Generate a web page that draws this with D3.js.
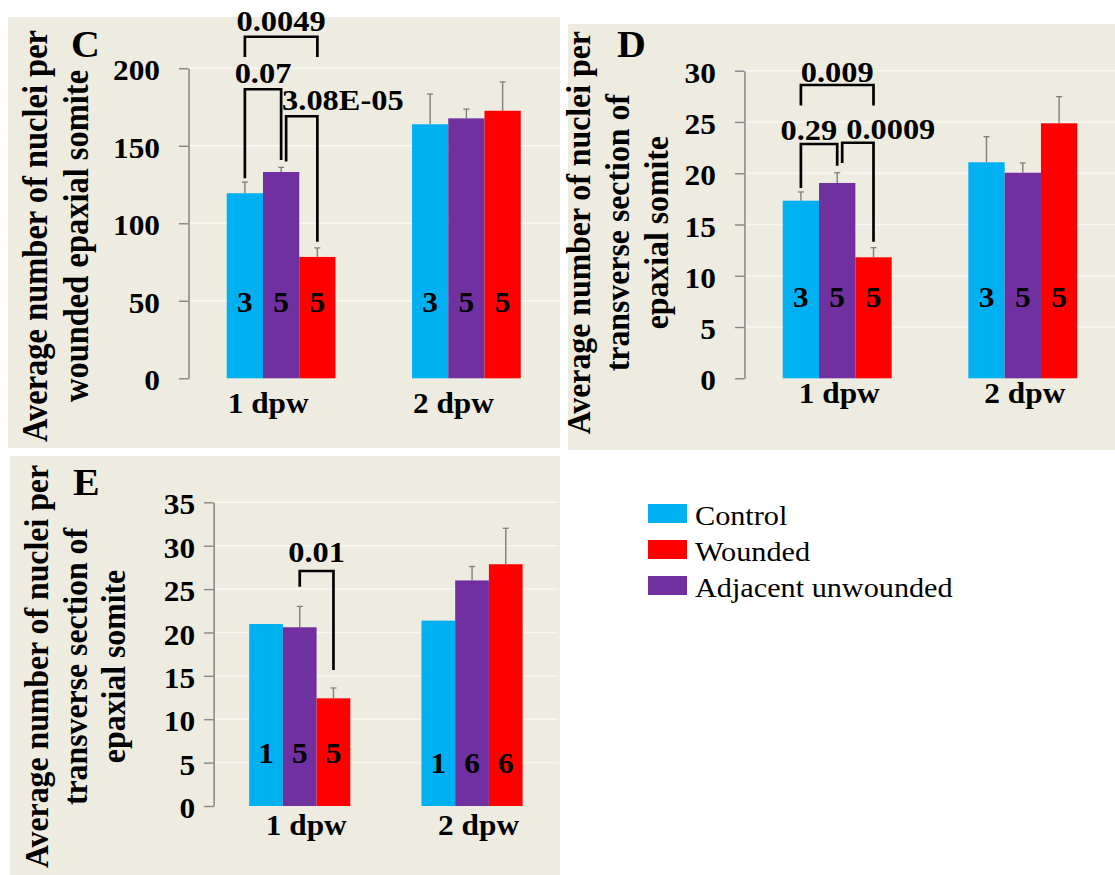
<!DOCTYPE html>
<html>
<head>
<meta charset="utf-8">
<script src="https://cdn.jsdelivr.net/npm/d3@7"></script>
<style>
  html, body { margin: 0; padding: 0; background: #ffffff; }
  svg { display: block; }
</style>
</head>
<body>
<svg id="fig" width="1115" height="875"></svg>
<script>
// ---------- shared categories / series ----------
const categories = ["1 dpw", "2 dpw"];
const seriesNames = ["Control", "Adjacent unwounded", "Wounded"];
const seriesColors = ["#00b0f0", "#7030a0", "#ff0000"];
const legendNames = ["Control", "Wounded", "Adjacent unwounded"];

// ---------- panel C: nuclei per wounded epaxial somite ----------
const cControl = [119.4, 163.9];
const cControlErr = [7.2, 19.5];
const cAdjacent = [133.1, 167.7];
const cAdjacentErr = [3.0, 6.0];
const cWounded = [78.3, 172.6];
const cWoundedErr = [5.8, 18.6];
const cCounts = [[3, 5, 5], [3, 5, 5]];
const cCountAt = [43, 43];
const cTicks = [0, 50, 100, 150, 200];
const cPValues = ["0.0049", "0.07", "3.08E-05"];
const cPairs = [[0, 2], [0, 1], [1, 2]];
const cBracketTop = [220.4, 186.5, 169.0];
const cBracketLegs = [[207.3, 207.3], [129.0, 140.8], [139.8, 88.1]];
const cPAlign = ["middle", "middle", "start"];

// ---------- panel D: nuclei per transverse section ----------
const dControl = [17.32, 21.07];
const dControlErr = [0.85, 2.5];
const dAdjacent = [19.05, 20.05];
const dAdjacentErr = [1.0, 0.95];
const dWounded = [11.8, 24.87];
const dWoundedErr = [0.94, 2.6];
const dCounts = [[3, 5, 5], [3, 5, 5]];
const dCountAt = [7, 7];
const dTicks = [0, 5, 10, 15, 20, 25, 30];
const dPValues = ["0.009", "0.29", "0.0009"];
const dPairs = [[0, 2], [0, 1], [1, 2]];
const dBracketTop = [28.6, 22.86, 22.98];
const dBracketLegs = [[26.6, 26.6], [18.56, 20.74], [21.0, 13.32]];
const dPAlign = ["middle", "end", "start"];

// ---------- panel E: nuclei per transverse section ----------
const eControl = [20.97, 21.36];
const eControlErr = [null, null];
const eAdjacent = [20.6, 26.0];
const eAdjacentErr = [2.4, 1.6];
const eWounded = [12.41, 27.86];
const eWoundedErr = [1.19, 4.15];
const eCounts = [[1, 5, 5], [1, 6, 6]];
const eCountAt = [5.0, 3.8];
const eTicks = [0, 5, 10, 15, 20, 25, 30, 35];
const ePValues = ["0.01"];
const ePairs = [[1, 2]];
const eBracketTop = [27.08];
const eBracketLegs = [[25.27, 15.67]];
const ePAlign = ["middle"];

// ---------- styling ----------
const FONT = '"Liberation Serif", "Times New Roman", Times, serif';
const BG = "#eeece1";
const GRID = "#f8f7f2";
const AXIS = "#868686";
const ERR = "#7f7f7f";
const SX = 1.08;            // horizontal stretch of the whole figure
const X = v => v / SX;      // screen x -> local x

const svg = d3.select("#fig");

function buildRows(ctrl, ctrlErr, adj, adjErr, wnd, wndErr, counts) {
  return categories.map((c, i) => ({
    cat: c,
    vals: [ctrl[i], adj[i], wnd[i]],
    errs: [ctrlErr[i], adjErr[i], wndErr[i]],
    counts: counts[i]
  }));
}

function buildBrackets(pairs, tops, legs, labels, align) {
  return pairs.map((p, k) => ({
    from: p[0], to: p[1], top: tops[k],
    leftLeg: legs[k][0], rightLeg: legs[k][1],
    label: labels[k], align: align[k]
  }));
}

const panels = [
  {
    letter: "C", bg: [8, 17, 560, 448],
    axisX: 188.5, plotRight: 559, gridRight: 560,
    yTop: 68.3, yBottom: 378.3, max: 200, ticks: cTicks, tickPad: 19,
    rows: buildRows(cControl, cControlErr, cAdjacent, cAdjacentErr, cWounded, cWoundedErr, cCounts),
    countAt: cCountAt,
    brackets: buildBrackets(cPairs, cBracketTop, cBracketLegs, cPValues, cPAlign),
    pGap: 6, pStartDx: -4,
    catY: 413.3, catDx: -13,
    letterX: 71, letterY: 56.7,
    title: ["Average number of nuclei per", "wounded epaxial somite"],
    titleX: [46.5, 87.7], titleCY: 236, titleSize: 32.5
  },
  {
    letter: "D", bg: [568, 24, 1115, 450],
    axisX: 744.4, plotRight: 1115.6, gridRight: 1115,
    yTop: 70.7, yBottom: 378.3, max: 30, ticks: dTicks, tickPad: 19,
    rows: buildRows(dControl, dControlErr, dAdjacent, dAdjacentErr, dWounded, dWoundedErr, dCounts),
    countAt: dCountAt,
    brackets: buildBrackets(dPairs, dBracketTop, dBracketLegs, dPValues, dPAlign),
    pGap: 3.5, pStartDx: 4,
    catY: 403.3, catDx: 2,
    letterX: 617, letterY: 56.7,
    title: ["Average number of nuclei per", "transverse section of", "epaxial somite"],
    titleX: [590, 629, 668], titleCY: 232.7, titleSize: 31.8
  },
  {
    letter: "E", bg: [10, 456, 560, 875],
    axisX: 213.6, plotRight: 558.2, gridRight: 558,
    yTop: 502.3, yBottom: 806, max: 35, ticks: eTicks, tickPad: 9,
    rows: buildRows(eControl, eControlErr, eAdjacent, eAdjacentErr, eWounded, eWoundedErr, eCounts),
    countAt: eCountAt,
    brackets: buildBrackets(ePairs, eBracketTop, eBracketLegs, ePValues, ePAlign),
    pGap: 9, pStartDx: 0,
    catY: 835, catDx: 6.5,
    letterX: 73, letterY: 495,
    title: ["Average number of nuclei per", "transverse section of", "epaxial somite"],
    titleX: [48.3, 86.5, 125], titleCY: 666.5, titleSize: 31.8
  }
];

function drawPanel(p) {
  const g = svg.append("g").attr("transform", `scale(${SX},1)`);

  // panel background
  g.append("rect")
    .attr("x", X(p.bg[0])).attr("y", p.bg[1])
    .attr("width", X(p.bg[2] - p.bg[0])).attr("height", p.bg[3] - p.bg[1])
    .attr("fill", BG);

  const y = d3.scaleLinear().domain([0, p.max]).range([p.yBottom, p.yTop]);
  const x0 = d3.scaleBand().domain(categories)
    .range([X(p.axisX), X(p.plotRight)]).paddingInner(0).paddingOuter(0);
  const bw = x0.bandwidth();
  const groupW = bw * 0.587;
  const x1 = d3.scaleBand().domain(seriesNames)
    .range([(bw - groupW) / 2, (bw + groupW) / 2]);

  // horizontal gridlines
  g.append("g").selectAll("line")
    .data(p.ticks.filter(t => t > 0)).join("line")
    .attr("x1", X(p.axisX)).attr("x2", X(p.gridRight))
    .attr("y1", d => y(d)).attr("y2", d => y(d))
    .attr("stroke", GRID).attr("stroke-width", 1.4);

  // y axis
  const ax = g.append("g")
    .attr("transform", `translate(${X(p.axisX)},0)`)
    .call(d3.axisLeft(y).tickValues(p.ticks).tickSize(X(9.5)).tickSizeOuter(0)
      .tickPadding(X(p.tickPad)).tickFormat(d3.format("d")))
    .attr("font-family", FONT).attr("font-size", 29);
  ax.select(".domain").attr("stroke", AXIS).attr("stroke-width", 1.4);
  ax.selectAll(".tick line").attr("stroke", AXIS).attr("stroke-width", 1.4);
  ax.selectAll(".tick text").attr("fill", "#000").attr("font-weight", "bold").attr("dy", "0.4em");

  const cx = (i, j) => x0(categories[i]) + x1(seriesNames[j]) + x1.bandwidth() / 2;

  // bars
  const grp = g.append("g").selectAll("g").data(p.rows).join("g")
    .attr("transform", d => `translate(${x0(d.cat)},0)`);
  grp.selectAll("rect")
    .data(d => d.vals.map((v, j) => ({ v, j })))
    .join("rect")
    .attr("x", d => x1(seriesNames[d.j]))
    .attr("y", d => y(d.v))
    .attr("width", x1.bandwidth())
    .attr("height", d => y(0) - y(d.v))
    .attr("fill", d => seriesColors[d.j]);

  // error bars (upper only)
  p.rows.forEach((row, i) => {
    row.vals.forEach((v, j) => {
      const e = row.errs[j];
      if (e == null) return;
      const c = cx(i, j);
      g.append("line").attr("x1", c).attr("x2", c)
        .attr("y1", y(v)).attr("y2", y(v + e))
        .attr("stroke", ERR).attr("stroke-width", 1.3);
      g.append("line").attr("x1", c - X(3)).attr("x2", c + X(3))
        .attr("y1", y(v + e)).attr("y2", y(v + e))
        .attr("stroke", ERR).attr("stroke-width", 1.3);
    });
    // sample sizes
    row.counts.forEach((n, j) => {
      g.append("text").attr("x", cx(i, j)).attr("y", y(p.countAt[i]))
        .attr("text-anchor", "middle").attr("font-family", FONT)
        .attr("font-size", 29).attr("font-weight", "bold").attr("fill", "#000")
        .text(n);
    });
  });

  // category labels
  g.append("g").selectAll("text").data(categories).join("text")
    .attr("x", d => x0(d) + bw / 2 + X(p.catDx))
    .attr("y", p.catY)
    .attr("text-anchor", "middle").attr("font-family", FONT)
    .attr("font-size", 29).attr("font-weight", "bold").attr("fill", "#000")
    .text(d => d);

  // significance brackets (all within the 1 dpw group)
  const endsAt = new Set(p.brackets.map(b => b.to));
  p.brackets.forEach(b => {
    const xa = cx(0, b.from) + (endsAt.has(b.from) && b.from !== 0 ? X(5) : 0);
    const xb = cx(0, b.to);
    const yt = y(b.top);
    g.append("path")
      .attr("d", `M${xa},${y(b.leftLeg)}V${yt}H${xb}V${y(b.rightLeg)}`)
      .attr("fill", "none").attr("stroke", "#000").attr("stroke-width", 2.5);
    const tx = b.align === "middle" ? (xa + xb) / 2
      : b.align === "start" ? xa + X(p.pStartDx) : xb;
    g.append("text").attr("x", tx).attr("y", yt - p.pGap)
      .attr("text-anchor", b.align).attr("font-family", FONT)
      .attr("font-size", 30).attr("font-weight", "bold").attr("fill", "#000")
      .text(b.label);
  });

  // panel letter
  g.append("text").attr("x", X(p.letterX)).attr("y", p.letterY)
    .attr("font-family", FONT).attr("font-size", 37).attr("font-weight", "bold")
    .attr("fill", "#000").text(p.letter);

  // y-axis title, one rotated line per entry
  p.title.forEach((line, k) => {
    g.append("text")
      .attr("transform", `translate(${X(p.titleX[k])},${p.titleCY}) rotate(-90)`)
      .attr("text-anchor", "middle").attr("font-family", FONT)
      .attr("font-size", p.titleSize).attr("font-weight", "bold").attr("fill", "#000")
      .text(line);
  });
}

panels.forEach(drawPanel);

// legend
const lg = svg.append("g").attr("transform", `scale(${SX},1)`);
const legendRows = lg.selectAll("g").data(legendNames).join("g")
  .attr("transform", (d, i) => `translate(${X(648)},${504 + i * 36})`);
legendRows.append("rect")
  .attr("width", X(39)).attr("height", 19)
  .attr("fill", d => seriesColors[seriesNames.indexOf(d)]);
legendRows.append("text")
  .attr("x", X(47)).attr("y", 20.5)
  .attr("font-family", FONT).attr("font-size", 28).attr("fill", "#000")
  .text(d => d);
</script>
</body>
</html>
